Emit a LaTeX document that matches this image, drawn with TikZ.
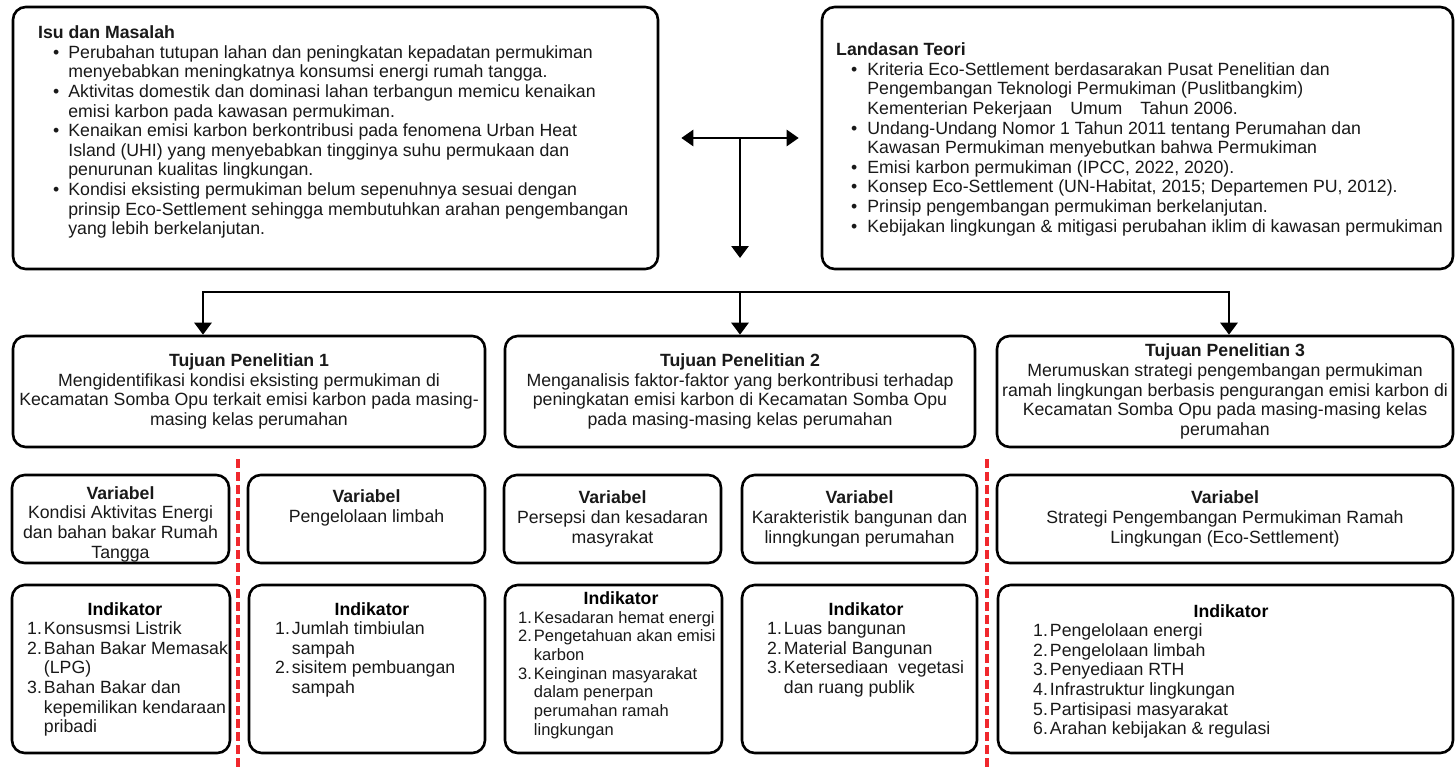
\documentclass[tikz,border=0pt]{standalone}
\usepackage{fontspec}
\setmainfont{Liberation Sans}
\usetikzlibrary{positioning,arrows.meta}
\definecolor{sepred}{RGB}{240,40,45}
\newcommand{\bodyfont}{\fontsize{17.7}{19.6}\selectfont}

\begin{document}
\begin{tikzpicture}[
        x=1pt,
        y=-1pt,
        font=\bodyfont,
        block/.style={
            rectangle,
            draw,
            line width=2.6pt,
            fill=white,
            text centered,
            align=center,
            text=black!90,
            rounded corners=4.5mm,
            inner sep=0pt
        },
        list/.style={
            anchor=north west,
            inner sep=0pt,
            text=black!90
        },
        heading/.style={
            inner sep=0pt,
            font=\bodyfont\bfseries
        },
        line/.style={
            draw,
            line width=2.7pt,
            -{Triangle[width=17pt,length=12pt]}
        },
        divider/.style={
            draw=sepred,
            line width=3.2pt,
            dash pattern=on 9pt off 4pt
        },
      ]
        \useasboundingbox (0,0) rectangle (1455,768);
        % problem and theory
        \node [block,minimum width=645,minimum height=262] (isu-masalah) at (335.5,138) {};
        \node [list] (isu-masalah-text) at (38,24.8) {\begin{tabular}{@{\hspace{15pt}}l@{\hspace{9pt}}l@{}}
            \multicolumn{2}{@{}l@{}}{\textbf{Isu dan Masalah}}\\
            \textbullet & Perubahan tutupan lahan dan peningkatan kepadatan permukiman\\
                        & menyebabkan meningkatnya konsumsi energi rumah tangga.\\
            \textbullet & Aktivitas domestik dan dominasi lahan terbangun memicu kenaikan\\
                        & emisi karbon pada kawasan permukiman.\\
            \textbullet & Kenaikan emisi karbon berkontribusi pada fenomena Urban Heat\\
                        & Island (UHI) yang menyebabkan tingginya suhu permukaan dan\\
                        & penurunan kualitas lingkungan.\\
            \textbullet & Kondisi eksisting permukiman belum sepenuhnya sesuai dengan\\
                        & prinsip Eco-Settlement sehingga membutuhkan arahan pengembangan\\
                        & yang lebih berkelanjutan.
        \end{tabular}};
        \node [block,minimum width=631,minimum height=262] (landasan-teori) at (1137.5,138) {};
        \node [list] (landasan-teori-text) at (836,41.8) {\begin{tabular}{@{\hspace{15pt}}l@{\hspace{10pt}}l@{}}
            \multicolumn{2}{@{}l@{}}{\textbf{Landasan Teori}}\\
            \textbullet & Kriteria Eco-Settlement berdasarakan Pusat Penelitian dan\\
                        & Pengembangan Teknologi Permukiman (Puslitbangkim)\\
                        & Kementerian Pekerjaan\hspace{18pt}Umum\hspace{18pt}Tahun 2006.\\
            \textbullet & Undang-Undang Nomor 1 Tahun 2011 tentang Perumahan dan\\
                        & Kawasan Permukiman menyebutkan bahwa Permukiman\\
            \textbullet & Emisi karbon permukiman (IPCC, 2022, 2020).\\
            \textbullet & Konsep Eco-Settlement (UN-Habitat, 2015; Departemen PU, 2012).\\
            \textbullet & Prinsip pengembangan permukiman berkelanjutan.\\
            \textbullet & Kebijakan lingkungan \& mitigasi perubahan iklim di kawasan permukiman
        \end{tabular}};
        \coordinate (split) at (740,138);
        \coordinate (split-end) at (740,258);
        \path [line,{Triangle[width=16pt,length=12pt]}-{Triangle[width=16pt,length=12pt]}] ([xshift=22]isu-masalah.east) -- ([xshift=-22]landasan-teori.west);
        \path [line] (split) -- (split-end);
        % research objectives
        \node [block,minimum width=472,minimum height=111] (tujuan-1) at (249,391.5) {\textbf{Tujuan Penelitian 1}\\Mengidentifikasi kondisi eksisting permukiman di\\Kecamatan Somba Opu terkait emisi karbon pada masing-\\masing kelas perumahan};
        \node [block,minimum width=470,minimum height=111] (tujuan-2) at (740,391.5) {\textbf{Tujuan Penelitian 2}\\Menganalisis faktor-faktor yang berkontribusi terhadap\\peningkatan emisi karbon di Kecamatan Somba Opu\\pada masing-masing kelas perumahan};
        \node [block,minimum width=456,minimum height=111] (tujuan-3) at (1225,391.5) {\textbf{Tujuan Penelitian 3}\\Merumuskan strategi pengembangan permukiman\\ramah lingkungan berbasis pengurangan emisi karbon di\\Kecamatan Somba Opu pada masing-masing kelas\\perumahan};
        \coordinate (bus-left) at (203,292);
        \coordinate (bus-mid) at (740,292);
        \coordinate (bus-right) at (1229,292);
        \path [line] (bus-mid) -| (bus-left |- tujuan-1.north);
        \path [line] (bus-mid) -| (bus-right |- tujuan-3.north);
        \path [line] (bus-mid) -- (tujuan-2.north);
        % variables
        \node [block,minimum width=217,minimum height=88] (variabel-1) at (120.5,519) {\rule{0pt}{23pt}\textbf{Variabel}\\Kondisi Aktivitas Energi\\dan bahan bakar Rumah\\Tangga};
        \node [block,minimum width=237,minimum height=88] (variabel-2) at (366.5,519) {\textbf{Variabel}\\Pengelolaan limbah\\\strut};
        \node [block,minimum width=217,minimum height=88] (variabel-3) at (612.5,519) {\textbf{Variabel}\\Persepsi dan kesadaran\\masyrakat};
        \node [block,minimum width=235,minimum height=88] (variabel-4) at (859.5,519) {\textbf{Variabel}\\Karakteristik bangunan dan\\linngkungan perumahan};
        \node [block,minimum width=456,minimum height=88] (variabel-5) at (1225,519) {\textbf{Variabel}\\Strategi Pengembangan Permukiman Ramah\\Lingkungan (Eco-Settlement)};
        % indicators
        \node [block,minimum width=218,minimum height=168] (indikator-1) at (121,669) {};
        \node [heading] (indikator-1-title) at (125,609) {Indikator};
        \node [list] (indikator-1-list) at (27,620.8) {\begin{tabular}{@{}l@{\hspace{2pt}}l@{}}
            1. & Konsusmsi Listrik\\
            2. & Bahan Bakar Memasak\\
               & (LPG)\\
            3. & Bahan Bakar dan\\
               & kepemilikan kendaraan\\
               & pribadi
        \end{tabular}};
        \node [block,minimum width=236,minimum height=168] (indikator-2) at (367,669) {};
        \node [heading] (indikator-2-title) at (372,609) {Indikator};
        \node [list] (indikator-2-list) at (275,620.8) {\begin{tabular}{@{}l@{\hspace{2pt}}l@{}}
            1. & Jumlah timbiulan\\
               & sampah\\
            2. & sisitem pembuangan\\
               & sampah
        \end{tabular}};
        \node [block,minimum width=217,minimum height=168] (indikator-3) at (613.5,669) {};
        \node [heading] (indikator-3-title) at (621,598) {Indikator};
        \node [list,font=\fontsize{16.5}{18.7}\selectfont] (indikator-3-list) at (518,609.8) {\begin{tabular}{@{}l@{\hspace{2pt}}l@{}}
            1. & Kesadaran hemat energi\\
            2. & Pengetahuan akan emisi\\
               & karbon\\
            3. & Keinginan masyarakat\\
               & dalam penerpan\\
               & perumahan ramah\\
               & lingkungan
        \end{tabular}};
        \node [block,minimum width=235,minimum height=168] (indikator-4) at (859.5,669) {};
        \node [heading] (indikator-4-title) at (866,609) {Indikator};
        \node [list] (indikator-4-list) at (767,620.8) {\begin{tabular}{@{}l@{\hspace{2pt}}l@{}}
            1. & Luas bangunan\\
            2. & Material Bangunan\\
            3. & Ketersediaan\hspace{10pt}vegetasi\\
               & dan ruang publik
        \end{tabular}};
        \node [block,minimum width=455,minimum height=168] (indikator-5) at (1225.5,669) {};
        \node [heading] (indikator-5-title) at (1231,611) {Indikator};
        \node [list] (indikator-5-list) at (1033,622.8) {\begin{tabular}{@{}l@{\hspace{2pt}}l@{}}
            1. & Pengelolaan energi\\
            2. & Pengelolaan limbah\\
            3. & Penyediaan RTH\\
            4. & Infrastruktur lingkungan\\
            5. & Partisipasi masyarakat\\
            6. & Arahan kebijakan \& regulasi
        \end{tabular}};
        % separators
        \coordinate (divider-1-top) at (238,459);
        \coordinate (divider-1-bottom) at (238,768);
        \coordinate (divider-2-top) at (987,459);
        \coordinate (divider-2-bottom) at (987,768);
        \path [divider] (divider-1-top) -- (divider-1-bottom);
        \path [divider] (divider-2-top) -- (divider-2-bottom);
      \end{tikzpicture}
\end{document}
